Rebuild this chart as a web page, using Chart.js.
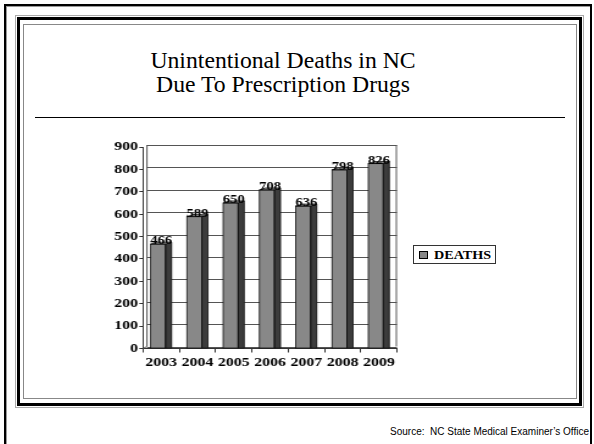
<!DOCTYPE html>
<html>
<head>
<meta charset="utf-8">
<title>Unintentional Deaths in NC Due To Prescription Drugs</title>
<script src="https://cdn.jsdelivr.net/npm/chart.js@4.4.0/dist/chart.umd.min.js"></script>
<style>
  html, body { margin: 0; padding: 0; background: #fff; }
  body { position: relative; width: 594px; height: 444px; overflow: hidden; }
  .abs { position: absolute; box-sizing: border-box; }
  #outerFrame { left: 4px; top: 4px; width: 588px; height: 520px; border: 2px solid #000; box-shadow: inset 1px 1px 0 #999; }
  #frameGray { left: 15px; top: 15px; width: 569px; height: 393px; border: 1px solid #aaa; }
  #frameBlack { left: 17px; top: 17px; width: 565px; height: 389px; border: 3px solid #000; }
  #frameInner { left: 23px; top: 24px; width: 554px; height: 375px; border: 1px solid #888; }
  #title { left: 0; top: 49px; width: 566px; text-align: center; font: 23px/24px "Liberation Serif", "Times New Roman", serif; color: #000; transform: scaleX(1.03); transform-origin: 50% 0; }
  #rule { left: 35px; top: 117px; width: 530px; height: 1px; background: #000; }
  #deathsChart { position: absolute; left: 95px; top: 135px; transform: scaleX(1.22); transform-origin: 0 0; }
  #legend { left: 413px; top: 245px; width: 83px; height: 19px; border: 1px solid #333; }
  #legend .swatch { position: absolute; left: 5px; top: 5px; width: 9px; height: 8px; background: #888; border: 1px solid #000; box-sizing: border-box; }
  #legend .text { position: absolute; left: 20px; top: 2px; font: bold 12px/14px "Liberation Serif", "Times New Roman", serif; color: #000; transform: scaleX(1.18); transform-origin: 0 0; }
  #source { right: 5px; top: 426px; font: 10px/12px "Liberation Sans", Arial, sans-serif; color: #000; white-space: pre; }
</style>
</head>
<body>
<div class="abs" id="outerFrame"></div>
<div class="abs" id="frameGray"></div>
<div class="abs" id="frameBlack"></div>
<div class="abs" id="frameInner"></div>
<div class="abs" id="title">Unintentional Deaths in NC<br>Due To Prescription Drugs</div>
<div class="abs" id="rule"></div>
<canvas id="deathsChart" width="254" height="240"></canvas>
<div class="abs" id="legend"><span class="swatch"></span><span class="text" id="legendText"></span></div>
<div class="abs" id="source">Source:  NC State Medical Examiner’s Office</div>

<script>
// 데이터
const years = ['2003', '2004', '2005', '2006', '2007', '2008', '2009'];
const deaths = [466, 589, 650, 708, 636, 798, 826];
const seriesLabel = 'DEATHS';
const yTicks = [0, 100, 200, 300, 400, 500, 600, 700, 800, 900];

// 3D 느낌 (캔버스 좌표)
const DX = 3.3;
const DY = 2;
const SIDE = 5;

const threeD = {
    id: 'threeD',
    beforeDatasetsDraw(chart) {
        const ctx = chart.ctx;
        const a = chart.chartArea;
        const y = chart.scales.y;
        ctx.save();
        ctx.strokeStyle = '#555';
        ctx.lineWidth = 1;
        // back wall grid
        yTicks.forEach(function(v) {
            const py = Math.round(y.getPixelForValue(v) - DY) + 0.5;
            ctx.beginPath();
            ctx.moveTo(a.left + DX, py);
            ctx.lineTo(a.right, py);
            ctx.stroke();
        });
        // wall edges
        ctx.beginPath();
        ctx.moveTo(a.right - 0.5, y.getPixelForValue(900) - DY);
        ctx.lineTo(a.right - 0.5, a.bottom - DY);
        ctx.moveTo(a.left + DX, y.getPixelForValue(900) - DY);
        ctx.lineTo(a.left + DX, a.bottom - DY);
        ctx.moveTo(a.left, a.bottom);
        ctx.lineTo(a.left + DX, a.bottom - DY);
        ctx.stroke();
        ctx.restore();
    },
    afterDatasetsDraw(chart) {
        const ctx = chart.ctx;
        const meta = chart.getDatasetMeta(0);
        ctx.save();
        meta.data.forEach(function(bar, i) {
            const p = bar.getProps(['x', 'y', 'base', 'width'], true);
            const xl = p.x - p.width / 2;
            const xr = p.x + p.width / 2;
            const xf = xr - SIDE;
            // side face
            ctx.fillStyle = '#3c3c3c';
            ctx.strokeStyle = '#111';
            ctx.lineWidth = 0.8;
            ctx.beginPath();
            ctx.moveTo(xf, p.y);
            ctx.lineTo(xr, p.y - DY);
            ctx.lineTo(xr, p.base);
            ctx.lineTo(xf, p.base);
            ctx.closePath();
            ctx.fill();
            ctx.stroke();
            // top face
            ctx.fillStyle = '#a0a0a0';
            ctx.beginPath();
            ctx.moveTo(xl, p.y);
            ctx.lineTo(xl + SIDE, p.y - DY);
            ctx.lineTo(xr, p.y - DY);
            ctx.lineTo(xf, p.y);
            ctx.closePath();
            ctx.fill();
            ctx.stroke();
            // front outline
            ctx.strokeRect(xl, p.y, xf - xl, p.base - p.y);
            // value label
            ctx.fillStyle = '#000';
            ctx.font = 'bold 12px "Liberation Serif", "Times New Roman", serif';
            ctx.textAlign = 'center';
            ctx.textBaseline = 'middle';
            ctx.fillText(deaths[i], p.x, p.y - 3);
        });
        ctx.restore();
    }
};

function createDeathsChart() {
    const ctx = document.getElementById('deathsChart').getContext('2d');

    new Chart(ctx, {
        type: 'bar',
        data: {
            labels: years,
            datasets: [{
                label: seriesLabel,
                data: deaths,
                backgroundColor: '#888888',
                borderWidth: 0,
                barPercentage: 0.58,
                categoryPercentage: 1
            }]
        },
        options: {
            responsive: false,
            animation: false,
            layout: {
                padding: { top: 12, right: 6.5, bottom: 0, left: 0 }
            },
            plugins: {
                legend: { display: false },
                tooltip: { enabled: false }
            },
            scales: {
                x: {
                    grid: {
                        drawOnChartArea: false,
                        tickLength: 4,
                        color: '#333'
                    },
                    border: { color: '#333' },
                    ticks: {
                        padding: 2,
                        color: '#000',
                        maxRotation: 0,
                        minRotation: 0,
                        autoSkip: false,
                        font: { family: '"Liberation Serif", "Times New Roman", serif', size: 13, weight: 'bold' }
                    },
                    afterFit: function(scale) { scale.height = 26.5; }
                },
                y: {
                    min: 0,
                    max: 900,
                    grid: {
                        drawOnChartArea: false,
                        tickLength: 3,
                        color: '#333'
                    },
                    border: { color: '#333' },
                    ticks: {
                        padding: 1,
                        color: '#000',
                        font: { family: '"Liberation Serif", "Times New Roman", serif', size: 13, weight: 'bold' }
                    },
                    afterBuildTicks: function(scale) {
                        scale.ticks = yTicks.map(function(v) { return { value: v }; });
                    },
                    afterFit: function(scale) { scale.width = 39.3; }
                }
            }
        },
        plugins: [threeD]
    });

    document.getElementById('legendText').textContent = seriesLabel;
}

document.addEventListener('DOMContentLoaded', function() {
    createDeathsChart();
});
</script>
</body>
</html>
